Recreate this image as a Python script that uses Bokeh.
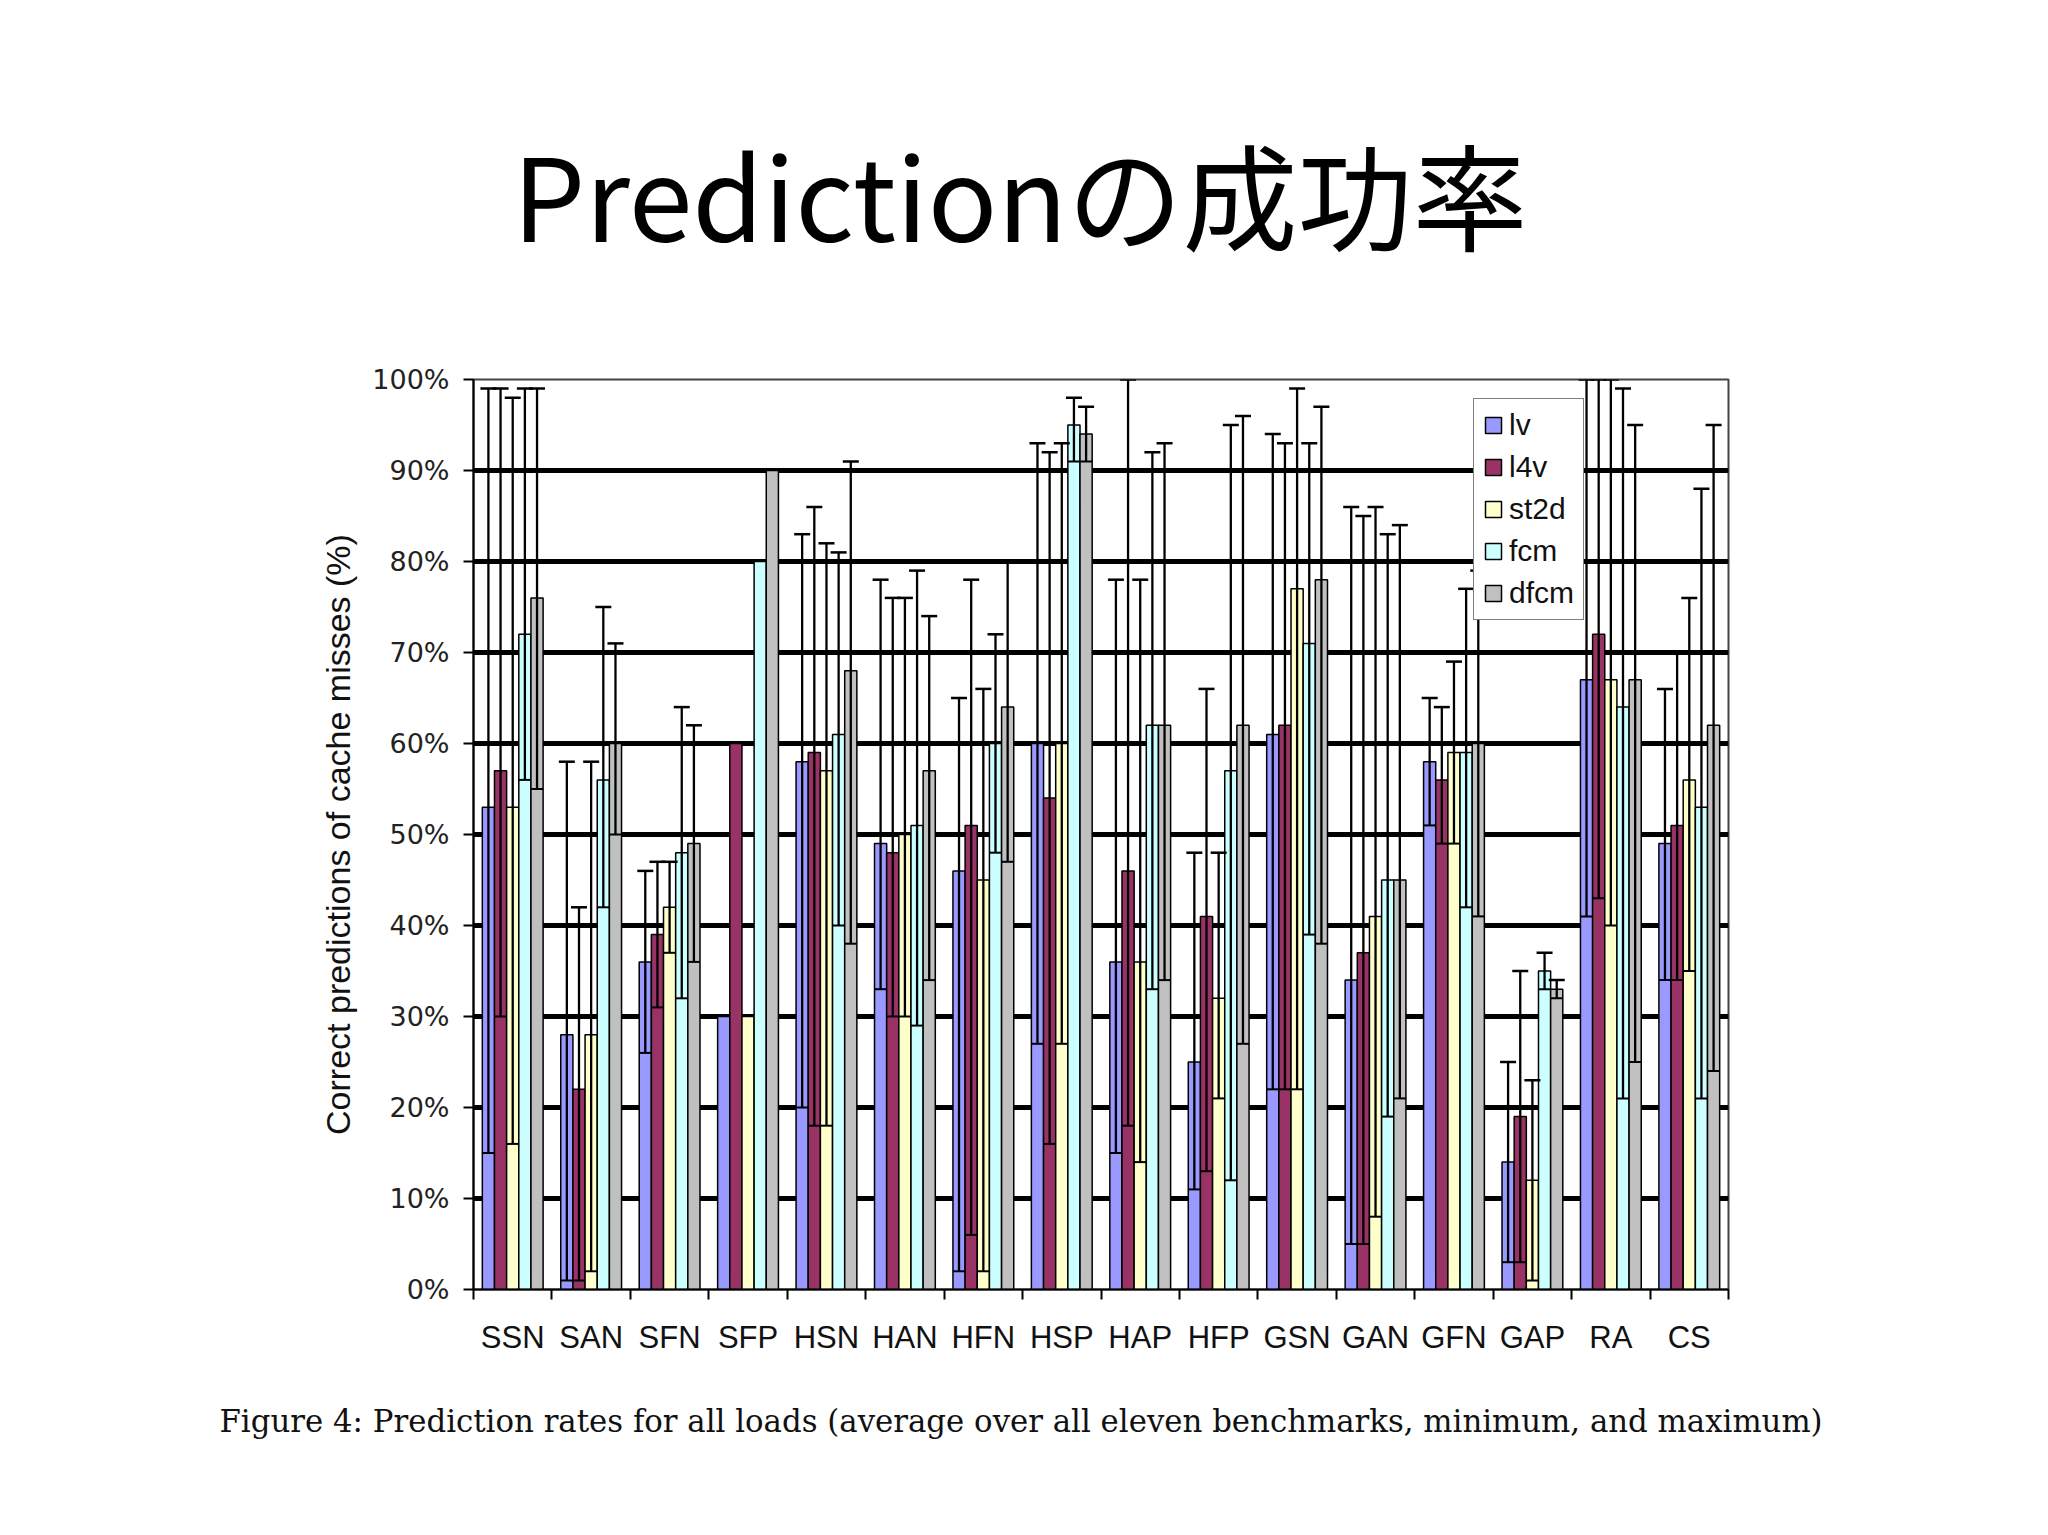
from bokeh.plotting import figure
from bokeh.models import (ColumnDataSource, Whisker, TeeHead, FixedTicker,
                          PrintfTickFormatter, Range1d, Title)
from bokeh.embed import file_html
from bokeh.resources import INLINE

# ---------------- data ----------------
categories = ["SSN", "SAN", "SFN", "SFP", "HSN", "HAN", "HFN", "HSP",
              "HAP", "HFP", "GSN", "GAN", "GFN", "GAP", "RA", "CS"]
series_names = ["lv", "l4v", "st2d", "fcm", "dfcm"]
series_colors = ["#9999FF", "#993366", "#FFFFCC", "#CCFFFF", "#C0C0C0"]

lv_avg = [53, 28, 36, 30, 58, 49, 46, 60, 36, 25, 61, 34, 58, 14, 67, 49]
lv_min = [15, 1, 26, 30, 20, 33, 2, 27, 15, 11, 22, 5, 51, 3, 41, 34]
lv_max = [99, 58, 46, 30, 83, 78, 65, 93, 78, 48, 94, 86, 65, 25, 100, 66]

l4v_avg = [57, 22, 39, 60, 59, 48, 51, 54, 46, 41, 62, 37, 56, 19, 72, 51]
l4v_min = [30, 1, 31, 60, 18, 30, 6, 16, 18, 13, 22, 5, 49, 3, 43, 34]
l4v_max = [99, 42, 47, 60, 86, 76, 78, 92, 100, 66, 93, 85, 64, 35, 100, 70]

st2d_avg = [53, 28, 42, 30, 57, 50, 45, 60, 36, 32, 77, 41, 59, 12, 67, 56]
st2d_min = [16, 2, 37, 30, 18, 30, 2, 27, 14, 21, 22, 8, 49, 1, 40, 35]
st2d_max = [98, 58, 47, 30, 82, 76, 66, 93, 78, 48, 99, 86, 69, 23, 100, 76]

fcm_avg = [72, 56, 48, 80, 61, 51, 60, 95, 62, 57, 71, 45, 59, 35, 64, 53]
fcm_min = [56, 42, 32, 80, 40, 29, 48, 91, 33, 12, 39, 19, 42, 33, 21, 21]
fcm_max = [99, 75, 64, 80, 81, 79, 72, 98, 92, 95, 93, 83, 77, 37, 99, 88]

dfcm_avg = [76, 60, 49, 90, 68, 57, 64, 94, 62, 62, 78, 45, 60, 33, 67, 62]
dfcm_min = [55, 50, 36, 90, 38, 34, 47, 91, 34, 27, 38, 21, 41, 32, 25, 24]
dfcm_max = [99, 71, 62, 90, 91, 74, 80, 97, 93, 96, 97, 84, 79, 34, 95, 95]

y_ticks = [0, 10, 20, 30, 40, 50, 60, 70, 80, 90, 100]

title_text = "Predictionの成功率"
y_label = "Correct predictions of cache misses (%)"
caption = ("Figure 4: Prediction rates for all loads (average over all eleven "
           "benchmarks, minimum, and maximum)")

avgs = [lv_avg, l4v_avg, st2d_avg, fcm_avg, dfcm_avg]
mins = [lv_min, l4v_min, st2d_min, fcm_min, dfcm_min]
maxs = [lv_max, l4v_max, st2d_max, fcm_max, dfcm_max]

# ---------------- layout (pixels) ----------------
W, H = 2032, 1519
FL, FR, FT, FB = 473, 1728, 379, 1289
n = len(categories)

p = figure(width=W, height=H, frame_width=FR - FL, frame_height=FB - FT,
           x_range=Range1d(0, n), y_range=Range1d(0, 100),
           output_backend="svg", toolbar_location=None,
           min_border_left=FL, min_border_right=W - FR,
           min_border_top=FT, min_border_bottom=H - FB)
p.background_fill_color = "white"
p.border_fill_color = "white"
p.outline_line_color = "#444444"
p.outline_line_width = 2

# main title (above) and caption (below)
p.title.text = title_text
p.title.text_font = "Noto Sans CJK JP"
p.title.text_font_size = "115px"
p.title.text_font_style = "normal"
p.title.text_color = "black"
p.title.align = "left"
p.title.offset = 512 - FL
p.title.standoff = 210

cap = Title(text=caption, text_font="DejaVu Serif", text_font_size="30.8px",
            text_font_style="normal", text_color="#111111", align="left",
            offset=219 - FL, standoff=87)
p.add_layout(cap, "below")

p.xgrid.visible = False
p.ygrid.ticker = FixedTicker(ticks=y_ticks[1:-1])
p.ygrid.grid_line_color = "black"
p.ygrid.grid_line_width = 5

p.yaxis.ticker = FixedTicker(ticks=y_ticks)
p.yaxis.formatter = PrintfTickFormatter(format="%d%%")
p.yaxis.major_tick_out = 10
p.yaxis.major_tick_in = 0
p.yaxis.minor_tick_out = 0
p.yaxis.minor_tick_in = 0
p.yaxis.major_tick_line_width = 2
p.yaxis.axis_line_width = 2
p.yaxis.axis_line_color = "black"
p.yaxis.major_label_text_font = "DejaVu Sans"
p.yaxis.major_label_text_font_size = "27px"
p.yaxis.major_label_text_color = "#222222"
p.yaxis.major_label_standoff = 14
p.yaxis.axis_label = y_label
p.yaxis.axis_label_text_font = "Liberation Sans"
p.yaxis.axis_label_text_font_size = "34px"
p.yaxis.axis_label_text_font_style = "normal"
p.yaxis.axis_label_text_color = "#111111"
p.yaxis.axis_label_standoff = 12

centers = [i + 0.5 for i in range(n)]
p.xaxis.ticker = FixedTicker(ticks=centers, minor_ticks=list(range(n + 1)))
p.xaxis.major_label_overrides = {c: lab for c, lab in zip(centers, categories)}
p.xaxis.major_tick_out = 0
p.xaxis.major_tick_in = 0
p.xaxis.minor_tick_out = 10
p.xaxis.minor_tick_in = 0
p.xaxis.minor_tick_line_width = 2
p.xaxis.minor_tick_line_color = "black"
p.xaxis.axis_line_width = 2
p.xaxis.axis_line_color = "black"
p.xaxis.major_label_text_font = "Liberation Sans"
p.xaxis.major_label_text_font_size = "31px"
p.xaxis.major_label_text_color = "#111111"
p.xaxis.major_label_standoff = 20

bar_w = 0.155
offsets = [(k - 2) * bar_w for k in range(5)]

# error bars: drawn over the bars (annotation level), under the legend
for k in range(5):
    xs, lo, hi = [], [], []
    for i in range(n):
        if mins[k][i] != maxs[k][i]:
            xs.append(centers[i] + offsets[k])
            lo.append(mins[k][i])
            hi.append(maxs[k][i])
    wsrc = ColumnDataSource(dict(x=xs, lo=lo, hi=hi))
    w = Whisker(source=wsrc, base="x", lower="lo", upper="hi",
                dimension="height", line_color="black", line_width=2.3,
                upper_head=TeeHead(size=16, line_color="black", line_width=2.5),
                lower_head=TeeHead(size=12, line_color="black", line_width=2))
    w.level = "annotation"
    p.add_layout(w)

for k in range(5):
    src = ColumnDataSource(dict(
        x=[c + offsets[k] for c in centers],
        top=avgs[k],
        cat=categories,
    ))
    p.vbar(x="x", top="top", bottom=0, width=bar_w, source=src,
           fill_color=series_colors[k], line_color="black",
           line_width=1.5, legend_label=series_names[k])

leg = p.legend[0]
leg.location = (1473 - FL, FB - 620)
leg.border_line_color = "black"
leg.border_line_width = 1.5
leg.background_fill_color = "white"
leg.background_fill_alpha = 1.0
leg.padding = 9
leg.spacing = 8
leg.margin = 0
leg.glyph_height = 20
leg.glyph_width = 20
leg.label_height = 30
leg.label_standoff = 6
leg.label_text_font = "Liberation Sans"
leg.label_text_font_size = "30px"
leg.label_text_color = "#111111"
leg.level = "overlay"

open("out.html", "w").write(file_html(p, INLINE))
